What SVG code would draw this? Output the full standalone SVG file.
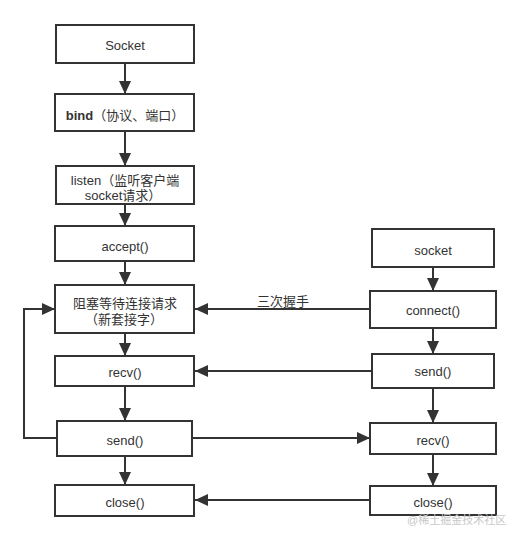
<svg xmlns="http://www.w3.org/2000/svg" width="521" height="541" viewBox="0 0 521 541">
<defs>
<marker id="ah" markerUnits="userSpaceOnUse" markerWidth="14" markerHeight="12" refX="13" refY="6" orient="auto">
<path d="M0,0 L13,6 L0,12 z" fill="#333"/>
</marker>
<style>
.box{fill:#fff;stroke:#333;stroke-width:2}
.t{font-family:"Liberation Sans","Noto Sans CJK SC",sans-serif;font-size:13px;fill:#333;text-anchor:middle}
.b{font-weight:bold}
.c{fill:none;stroke:#333;stroke-width:2}
.wm{font-family:"Liberation Sans","Noto Sans CJK SC",sans-serif;font-size:11px;fill:#c8c8c8}
</style>
</defs>
<rect width="521" height="541" fill="#fff"/>
<g id="connectors">
<line class="c" x1="125" y1="63" x2="125" y2="94" marker-end="url(#ah)"/>
<line class="c" x1="125" y1="131" x2="125" y2="166" marker-end="url(#ah)"/>
<line class="c" x1="125" y1="204" x2="125" y2="226" marker-end="url(#ah)"/>
<line class="c" x1="125" y1="261" x2="125" y2="285" marker-end="url(#ah)"/>
<line class="c" x1="125" y1="333" x2="125" y2="356" marker-end="url(#ah)"/>
<line class="c" x1="125" y1="386" x2="125" y2="421" marker-end="url(#ah)"/>
<line class="c" x1="125" y1="456" x2="125" y2="485" marker-end="url(#ah)"/>
<polyline class="c" points="57,438 24,438 24,309 55,309" marker-end="url(#ah)"/>
<line class="c" x1="370" y1="309" x2="195" y2="309" marker-end="url(#ah)"/>
<line class="c" x1="372" y1="371" x2="195" y2="371" marker-end="url(#ah)"/>
<line class="c" x1="192" y1="438" x2="370" y2="438" marker-end="url(#ah)"/>
<line class="c" x1="370" y1="500" x2="195" y2="500" marker-end="url(#ah)"/>
<line class="c" x1="433" y1="267" x2="433" y2="291" marker-end="url(#ah)"/>
<line class="c" x1="433" y1="328" x2="433" y2="354" marker-end="url(#ah)"/>
<line class="c" x1="433" y1="388" x2="433" y2="423" marker-end="url(#ah)"/>
<line class="c" x1="433" y1="454" x2="433" y2="486" marker-end="url(#ah)"/>
<text class="t" x="283" y="306">三次握手</text>
</g>
<g id="n-socket"><rect class="box" x="56" y="25" width="138" height="38"/><text class="t" x="125" y="49.5">Socket</text></g>
<g id="n-bind"><rect class="box" x="55" y="94" width="139" height="37"/><text class="t" x="125" y="120"><tspan class="b">bind</tspan>（协议、端口）</text></g>
<g id="n-listen"><rect class="box" x="56" y="166" width="138" height="38"/><text class="t" x="125" y="184.5">listen（监听客户端</text><text class="t" x="123" y="199.5">socket请求）</text></g>
<g id="n-accept"><rect class="box" x="55" y="226" width="139" height="35"/><text class="t" x="125" y="250.5">accept()</text></g>
<g id="n-block"><rect class="box" x="55" y="285" width="139" height="48"/><text class="t" x="125" y="308">阻塞等待连接请求</text><text class="t" x="124" y="324">（新套接字）</text></g>
<g id="n-recv-l"><rect class="box" x="55" y="356" width="139" height="30"/><text class="t" x="125" y="377">recv()</text></g>
<g id="n-send-l"><rect class="box" x="57" y="421" width="135" height="35"/><text class="t" x="125" y="444.5">send()</text></g>
<g id="n-close-l"><rect class="box" x="55" y="485" width="139" height="31"/><text class="t" x="125" y="507">close()</text></g>
<g id="n-socket-r"><rect class="box" x="372" y="229" width="122" height="38"/><text class="t" x="433" y="255">socket</text></g>
<g id="n-connect"><rect class="box" x="370" y="291" width="126" height="37"/><text class="t" x="433" y="315">connect()</text></g>
<g id="n-send-r"><rect class="box" x="372" y="354" width="122" height="34"/><text class="t" x="433" y="375.5">send()</text></g>
<g id="n-recv-r"><rect class="box" x="370" y="423" width="126" height="31"/><text class="t" x="433" y="445">recv()</text></g>
<g id="n-close-r"><rect class="box" x="370" y="486" width="126" height="29"/><text class="t" x="433" y="507">close()</text></g>
<text class="wm" x="407" y="524">@稀土掘金技术社区</text>
</svg>
